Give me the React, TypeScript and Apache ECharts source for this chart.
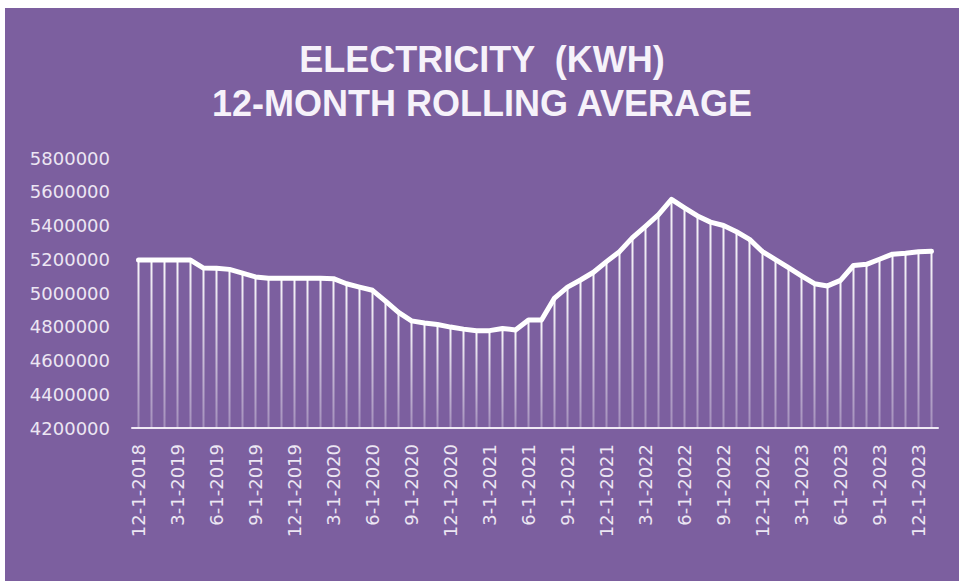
import React, { useEffect, useRef } from "react";
import * as echarts from "echarts";

const categories = [
  "12-1-2018",
  "1-1-2019", "2-1-2019", "3-1-2019", "4-1-2019", "5-1-2019", "6-1-2019",
  "7-1-2019", "8-1-2019", "9-1-2019", "10-1-2019", "11-1-2019", "12-1-2019",
  "1-1-2020", "2-1-2020", "3-1-2020", "4-1-2020", "5-1-2020", "6-1-2020",
  "7-1-2020", "8-1-2020", "9-1-2020", "10-1-2020", "11-1-2020", "12-1-2020",
  "1-1-2021", "2-1-2021", "3-1-2021", "4-1-2021", "5-1-2021", "6-1-2021",
  "7-1-2021", "8-1-2021", "9-1-2021", "10-1-2021", "11-1-2021", "12-1-2021",
  "1-1-2022", "2-1-2022", "3-1-2022", "4-1-2022", "5-1-2022", "6-1-2022",
  "7-1-2022", "8-1-2022", "9-1-2022", "10-1-2022", "11-1-2022", "12-1-2022",
  "1-1-2023", "2-1-2023", "3-1-2023", "4-1-2023", "5-1-2023", "6-1-2023",
  "7-1-2023", "8-1-2023", "9-1-2023", "10-1-2023", "11-1-2023", "12-1-2023",
  "1-1-2024",
];

const kwh2018 = [5195000];
const kwh2019 = [5195000, 5195000, 5195000, 5195000, 5148000, 5147000, 5140000, 5118000, 5095000, 5088000, 5087000, 5087000];
const kwh2020 = [5088000, 5087000, 5085000, 5055000, 5035000, 5016000, 4952000, 4885000, 4835000, 4822000, 4813000, 4798000];
const kwh2021 = [4786000, 4776000, 4777000, 4790000, 4781000, 4840000, 4840000, 4970000, 5035000, 5077000, 5123000, 5186000];
const kwh2022 = [5245000, 5328000, 5395000, 5465000, 5555000, 5505000, 5457000, 5420000, 5400000, 5363000, 5318000, 5245000];
const kwh2023 = [5198000, 5150000, 5102000, 5055000, 5042000, 5075000, 5163000, 5170000, 5200000, 5230000, 5236000, 5245000];
const kwh2024 = [5247000];

const rollingKwh = [...kwh2018, ...kwh2019, ...kwh2020, ...kwh2021, ...kwh2022, ...kwh2023, ...kwh2024];

const titleText = "ELECTRICITY  (KWH)\n12-MONTH ROLLING AVERAGE";
const yMin = 4200000;
const yMax = 5800000;
const yStep = 200000;

export default function App() {
  const ref = useRef<HTMLDivElement>(null);

  useEffect(() => {
    if (!ref.current) return;
    const chart = echarts.init(ref.current, undefined, { renderer: "svg" });
    const labelColor = "#ECE6F3";
    chart.setOption({
      animation: false,
      backgroundColor: "transparent",
      title: {
        text: titleText,
        left: "center",
        top: 24,
        textStyle: {
          color: "#F6F2FA",
          fontSize: 36,
          fontWeight: "bold",
          fontFamily: "'Liberation Sans', Arial, sans-serif",
          lineHeight: 44,
        },
      },
      grid: { left: 127, right: 21, top: 150, height: 270, containLabel: false },
      xAxis: {
        type: "category",
        data: categories,
        boundaryGap: true,
        axisLine: { show: true, lineStyle: { color: "#EFE9F5", width: 2 } },
        axisTick: { show: false },
        splitLine: { show: false },
        axisLabel: {
          interval: 2,
          rotate: 90,
          margin: 16,
          color: labelColor,
          fontSize: 18,
          fontFamily: "'DejaVu Sans', sans-serif",
        },
      },
      yAxis: {
        type: "value",
        min: yMin,
        max: yMax,
        interval: yStep,
        axisLine: { show: false },
        axisTick: { show: false },
        splitLine: { show: false },
        axisLabel: {
          margin: 22,
          color: labelColor,
          fontSize: 18,
          fontFamily: "'DejaVu Sans', sans-serif",
          formatter: (v: number) => String(v),
        },
      },
      series: [
        {
          type: "bar",
          data: rollingKwh,
          barWidth: 2,
          silent: true,
          itemStyle: {
            color: new echarts.graphic.LinearGradient(0, 0, 0, 1, [
              { offset: 0, color: "rgba(255,255,255,0.95)" },
              { offset: 1, color: "rgba(255,255,255,0.3)" },
            ]),
          },
        },
        {
          type: "line",
          data: rollingKwh,
          symbol: "none",
          lineStyle: { color: "#FFFFFF", width: 5, join: "round", cap: "round" },
          z: 5,
        },
      ],
    });
    return () => chart.dispose();
  }, []);

  return (
    <div
      style={{
        position: "absolute",
        left: 5,
        top: 8,
        width: 954,
        height: 573,
        background: "#7C5F9F",
      }}
    >
      <div ref={ref} style={{ width: 954, height: 573 }} />
    </div>
  );
}
